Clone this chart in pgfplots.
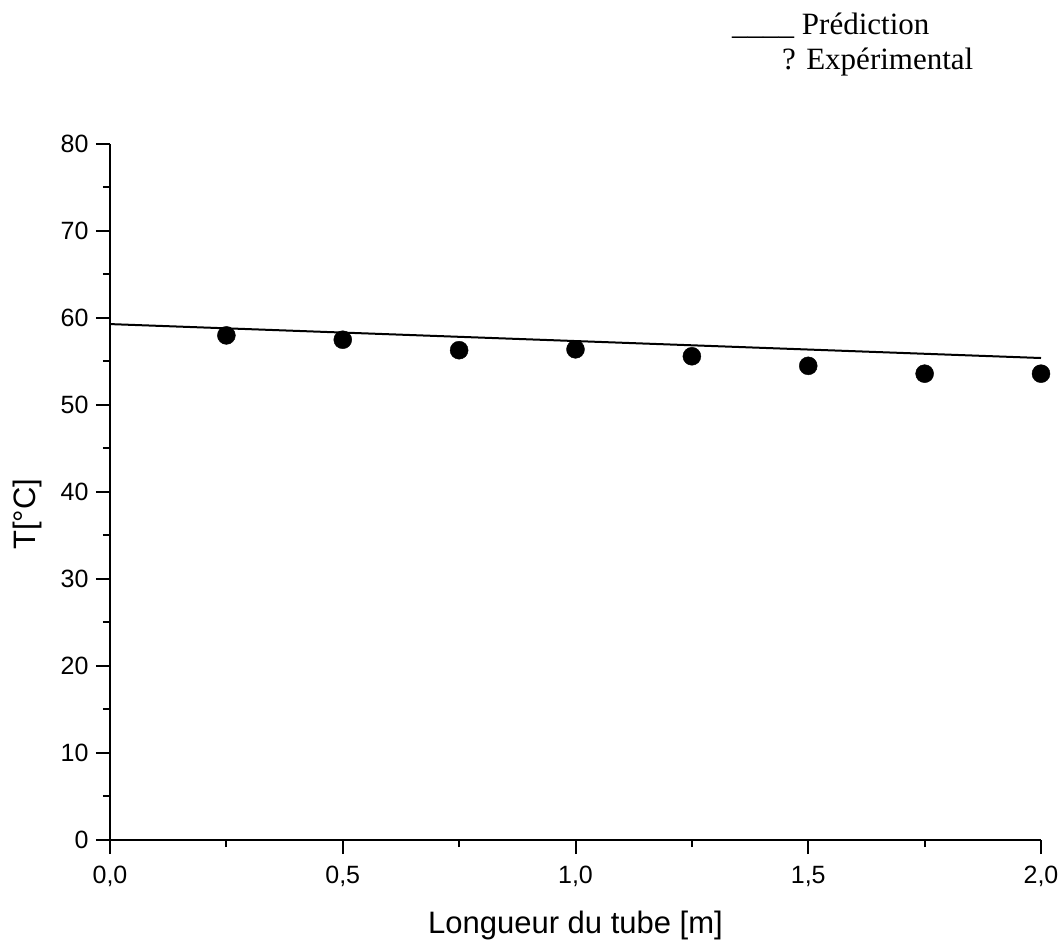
\documentclass[border=0pt]{standalone}
\usepackage{fontspec}
\setmainfont{Liberation Sans}
\newfontfamily\tnr{Liberation Serif}
\usepackage{pgfplots}
\pgfplotsset{compat=1.18}
\begin{document}
\begin{tikzpicture}
\useasboundingbox (-110pt,-101pt) rectangle (952pt,840pt);
\begin{axis}[
  at={(0pt,0pt)}, anchor=origin,
  scale only axis, width=931pt, height=696pt,
  xmin=0, xmax=2, ymin=0, ymax=80,
  axis x line*=bottom, axis y line*=left,
  axis line style={line width=2pt},
  xtick={0,0.5,1,1.5,2}, minor xtick={0.25,0.75,1.25,1.75},
  ytick={0,10,20,30,40,50,60,70,80}, minor ytick={5,15,25,35,45,55,65,75},
  tick align=outside,
  major tick length=14pt, minor tick length=7pt,
  every tick/.style={black, line width=2pt},
  /pgf/number format/assume math mode=true,
  ticklabel style={font=\fontsize{25}{29}\selectfont},
  xticklabel style={yshift=-9pt, /pgf/number format/.cd, use comma, fixed, fixed zerofill, precision=1},
  yticklabel style={xshift=-4pt},
  xlabel={Longueur du tube [m]},
  ylabel={T[°C]},
  label style={font=\fontsize{31}{37}\selectfont},
  xlabel style={at={(axis description cs:0.5,-0.135)}, anchor=base},
  ylabel style={at={(axis description cs:-0.080,0.468)}, anchor=base},
  clip mode=individual,
]
\addplot[black, line width=2pt] coordinates {(0,59.3) (2,55.4)};
\addplot[only marks, mark=*, mark size=9pt, black] coordinates {
(0.25,58.0) (0.5,57.5) (0.75,56.3) (1.0,56.4) (1.25,55.6) (1.5,54.5) (1.75,53.6) (2.0,53.6)};
\end{axis}
\node[anchor=base west, inner sep=0pt, font=\tnr\fontsize{31}{37}\selectfont] at (622pt,805pt) {\_\_\_\_ Prédiction};
\node[anchor=base west, inner sep=0pt, font=\tnr\fontsize{31}{37}\selectfont] at (672pt,770pt) {? Expérimental};
\end{tikzpicture}
\end{document}
